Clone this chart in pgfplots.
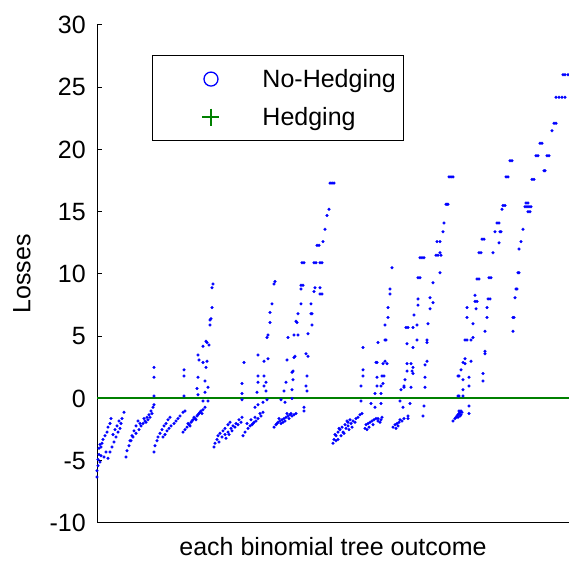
\documentclass[border=0pt]{standalone}
\usepackage{pgfplots}
\pgfplotsset{compat=1.18}
\usepackage{fontspec}
\setmainfont{Liberation Sans}
\definecolor{mblue}{RGB}{0,0,255}
\definecolor{mgreen}{RGB}{0,128,0}
\newcommand{\lbl}{\fontsize{25}{30}\selectfont}
\begin{document}
\begin{tikzpicture}
\useasboundingbox (0pt,0pt) rectangle (569pt,561pt);
\begin{axis}[
  at={(97pt,38pt)}, anchor=south west,
  x=1pt, y=12.45pt,
  xmin=97, xmax=569, ymin=-10, ymax=30,
  axis x line*=bottom, axis y line*=left,
  axis line style={line width=1pt, black},
  xtick=\empty,
  ytick={-10,-5,0,5,10,15,20,25,30},
  yticklabels={-10,-5,0,5,10,15,20,25,30},
  tick align=inside, major tick length=5pt,
  tick style={line width=1pt, black},
  yticklabel style={font=\lbl, inner sep=0pt, xshift=-11pt},
  xlabel={each binomial tree outcome},
  ylabel={Losses},
  every axis x label/.style={at={(axis description cs:0.5,0)}, anchor=center, yshift=-24pt, font=\lbl},
  every axis y label/.style={at={(axis description cs:-0.159,0.5)}, rotate=90, anchor=center, font=\lbl},
  legend image code/.code={\path (-50pt,-18.5pt) (48pt,18.5pt); \draw[#1] plot coordinates {(0pt,0pt)};},
  legend style={at={(axis description cs:0.1165,0.9396)}, anchor=north west,
    draw=black, line width=1pt, inner xsep=8pt, inner ysep=4.5pt,
    column sep=3pt, row sep=0pt, font=\lbl, nodes={inner sep=0pt}},
  legend cell align=left,
]
\addlegendimage{only marks, mark=o, mblue, mark size=7pt, mark options={line width=1.3pt}}
\addlegendentry{No-Hedging}
\addlegendimage{only marks, mark=+, mgreen, mark size=8.5pt, mark options={line width=1.2pt}}
\addlegendentry{Hedging}
\addplot[forget plot, mblue, only marks, mark=*, mark size=1.4pt, mark options={draw=mblue, fill=mblue, line width=0.3pt}] coordinates {
(97,-6.3) (97,-5.8) (98,-5.4) (98,-4.9) (99,-4.5) (99,-4.0) (100,-5.1) (101,-4.6) (100,-3.7)
(101,-3.9) (102,-3.6) (103,-3.3) (105,-3.0) (107,-2.7) (108,-2.3) (110,-2.0) (111,-1.6)
(104,-4.7) (106,-4.3) (108,-4.8) (110,-4.3) (112,-3.9) (114,-3.5) (116,-3.1) (118,-2.7) (120,-2.4) (121,-2.0) (122,-1.6) (124,-1.1)
(113,-2.9) (115,-2.5) (117,-2.2) (119,-1.8)
(126,-4.7) (127,-4.2) (129,-3.8) (130,-3.4) (132,-3.0) (134,-2.6) (136,-2.2) (138,-1.8)
(131,-3.4) (133,-3.1) (136,-2.8) (139,-2.5) (141,-2.2) (143,-2.0) (145,-1.8) (147,-1.5) (149,-1.3) (151,-1.0) (153,-0.7)
(146,-1.9) (148,-1.7) (150,-1.5) (152,-1.2) (140,-2.0) (144,-1.6)
(154,2.5) (154,1.7) (154,0.2) (154,-0.5)
(154,-4.3) (155,-3.8) (157,-3.4) (158,-3.1) (160,-2.8) (162,-2.5) (164,-2.2) (166,-2.0) (168,-1.7) (170,-1.5)
(163,-3.1) (165,-2.9) (167,-2.6) (169,-2.4) (171,-2.2) (174,-2.0) (176,-1.8) (178,-1.6) (180,-1.4) (183,-1.1) (185,-1.0)
(183,-2.7) (185,-2.5) (187,-2.3) (189,-2.1) (191,-1.9) (193,-1.7) (195,-1.6) (197,-1.4) (199,-1.2) (201,-1.0) (203,-0.9) (205,-0.7)
(188,-2.0) (190,-2.2) (192,-1.8) (194,-1.5) (196,-1.7) (198,-1.3) (200,-1.1) (202,-1.2)
(184,2.3) (184,1.8) (184,0.2) (198,3.5) (199,3.1) (198,1.7) (197,0.8) (198,0.3) (203,2.9) (206,2.5) (205,0.5) (203,-0.2) (207,4.5) (203,4.2)
(206,4.6) (209,4.3) (207,3.0) (205,1.4) (208,0.9) (208,-0.2) (213,9.2) (212,8.9) (212,7.3) (211,6.4) (210,5.9) (210,6.3)
(214,-3.9) (215,-3.6) (217,-3.3) (218,-3.0) (220,-2.8) (223,-2.6) (225,-2.4) (228,-2.1) (230,-1.9)
(219,-3.5) (222,-3.1) (225,-2.9) (228,-2.7) (231,-2.4) (233,-2.2) (236,-2.0) (239,-1.7) (242,-1.5)
(226,-3.2) (229,-2.9) (232,-2.6) (235,-2.3) (238,-2.1) (241,-1.9)
(243,-3.0) (245,-2.7) (248,-2.4) (250,-2.2) (253,-2.0) (256,-1.8) (258,-1.6) (261,-1.4) (263,-1.1)
(247,-2.0) (251,-1.7) (255,-1.5) (260,-1.2) (252,-2.1) (254,-1.9)
(242,1.2) (242,0.4) (242,-0.1) (244,2.9) (255,-0.7) (258,-0.5) (263,-0.3) (267,-0.1) (257,0.5) (258,1.8) (258,1.3) (264,1.8) (264,1.0) (266,1.3) (266,0.6)
(258,3.5) (264,3.0) (268,3.2) (267,4.9) (268,5.1) (270,6.1) (270,6.9) (272,7.6) (274,9.2) (275,9.4)
(274,-2.3) (276,-2.1) (277,-2.0) (278,-1.9) (280,-1.8) (282,-1.7) (283,-1.9) (284,-1.6) (286,-1.5) (287,-1.2) (288,-1.4) (289,-1.6) (290,-1.3) (291,-1.2) (292,-1.4) (294,-1.3) (296,-1.2) (279,-1.6) (281,-2.0) (285,-1.8)
(281,-0.1) (285,-0.3) (292,0.0) (284,0.6) (292,0.7) (286,1.3) (293,1.5) (292,2.1) (293,2.2) (287,3.1) (294,3.3) (295,3.4) (288,4.9) (294,5.1) (298,5.1) (297,6.1) (296,6.2) (298,6.8)
(301,7.6) (301,9.1) (301,8.8) (303,9.1) (304,-0.7) (304,-1.0) (306,3.6) (308,3.4) (307,1.8) (306,1.0) (307,0.6) (308,5.2) (311,6.8) (312,5.9) (311,7.6) (312,6.8)
(315,8.9) (320,8.9) (314,8.6) (320,8.4) (322,8.4) (302,10.9) (304,10.9) (314,10.9) (316,10.9) (320,10.9) (322,10.9) (317,12.3) (319,12.3) (323,12.6) (325,13.6) (327,14.7) (329,15.2) (330,17.3) (332,17.3) (334,17.3)
(333,-3.6) (334,-3.3) (336,-3.0) (338,-2.7) (340,-2.5) (342,-2.3) (345,-2.1) (348,-1.9) (350,-1.7)
(338,-3.3) (341,-3.0) (343,-2.7) (346,-2.4) (348,-2.2) (351,-2.0) (353,-1.8) (356,-1.6) (358,-1.5) (360,-1.3) (362,-1.2)
(336,-3.4) (344,-2.8) (349,-2.5) (352,-2.3) (355,-1.9) (335,-2.9) (339,-2.4) (347,-1.8)
(365,-2.4) (366,-2.1) (368,-2.0) (370,-1.9) (372,-1.8) (374,-1.7) (376,-1.6) (378,-1.8) (380,-1.9) (381,-1.7) (369,-2.3) (373,-2.1) (367,-2.5)
(393,-2.3) (395,-2.1) (397,-2.0) (399,-1.9) (400,-1.7) (402,-1.8) (404,-1.6) (408,-1.6) (408,-1.4) (396,-2.4) (398,-2.2)
(453,-1.8) (455,-1.6) (456,-1.5) (457,-1.4) (458,-1.3) (459,-1.2) (460,-1.1) (461,-1.0) (462,-1.1) (458,-1.5) (460,-1.4) (459,-1.0) (461,-1.3)
(361,-0.2) (363,4.1) (363,2.3) (363,1.8) (361,1.0) (371,-0.4) (375,-0.7) (378,-1.6) (382,-1.5) (381,-0.4) (375,0.4) (381,0.4) (377,1.0) (381,1.0) (383,1.2) (377,1.7) (382,1.8) (384,1.8)
(377,2.9) (383,2.8) (385,3.0) (387,2.8) (376,2.9) (378,4.5) (385,4.7) (386,4.7) (385,5.9) (388,6.5) (388,7.3) (390,8.4) (390,8.8) (392,10.5)
(400,-0.2) (403,-0.7) (410,-0.4) (424,-0.6) (423,-1.4) (401,0.7) (404,1.0) (404,0.9) (411,0.9) (405,1.5) (407,2.8) (407,2.2) (412,2.2) (413,2.5) (413,2.0) (411,2.8)
(407,4.4) (413,4.1) (417,4.7) (406,5.7) (408,5.7) (413,5.7) (417,5.9) (414,6.7) (418,7.5) (418,8.0) (418,9.7) (420,9.7) (420,11.3) (422,11.3) (424,11.3)
(427,4.7) (427,4.5) (427,3.0) (425,2.7) (425,1.7) (425,0.9) (428,6.0) (430,7.2) (433,7.7) (430,8.1) (433,9.3)
(436,11.5) (438,11.5) (441,11.5) (437,12.6) (440,12.6) (440,11.7) (440,10.1) (443,13.4) (444,14.1) (446,15.6) (447,15.6) (448,15.6) (449,17.8) (451,17.8) (453,17.8)
(458,1.8) (458,0.2) (459,1.8) (463,1.5) (469,1.7) (469,1.0) (463,0.7) (459,0.2) (463,0.2) (469,-0.6) (469,-1.2) (461,2.3) (465,3.2) (463,2.9) (471,3.0) (465,2.8)
(465,4.7) (467,4.7) (471,4.7) (473,4.9) (473,6.0) (467,7.3) (467,6.5)
(483,2.0) (483,1.4) (485,3.6) (485,3.8) (485,5.4) (487,6.5) (487,7.3) (476,7.2) (475,7.8) (477,7.8) (475,8.3) (488,8.0) (490,8.0) (477,9.6) (479,9.6) (489,9.7) (491,9.7)
(479,11.7) (481,11.7) (493,11.7) (482,12.8) (484,12.8) (497,14.1) (499,14.1) (495,13.4) (500,13.4) (501,13.4) (499,12.5) (502,15.2) (503,15.5) (505,15.5)
(506,17.8) (508,17.8) (510,19.1) (512,19.1) (513,5.4) (513,6.5) (514,6.5) (515,8.1) (516,8.8) (517,8.8) (518,10.1) (519,10.1) (519,12.0) (521,12.6) (523,13.6)
(525,15.4) (527,15.4) (529,15.4) (531,15.4) (526,15.7) (528,15.7) (528,15.0) (530,15.0) (532,17.6) (534,17.6) (536,19.5) (538,19.5) (547,19.5) (549,19.5) (540,20.5) (542,20.5) (544,18.3) (545,18.3)
(552,21.5) (554,22.1) (556,22.1) (556,24.2) (559,24.2) (562,24.2) (565,24.2) (563,26.0) (565,26.0) (568,26.0)
};
\addplot[forget plot, mgreen, line width=2pt] coordinates {(97,0) (569,0)};
\end{axis}
\end{tikzpicture}
\end{document}
